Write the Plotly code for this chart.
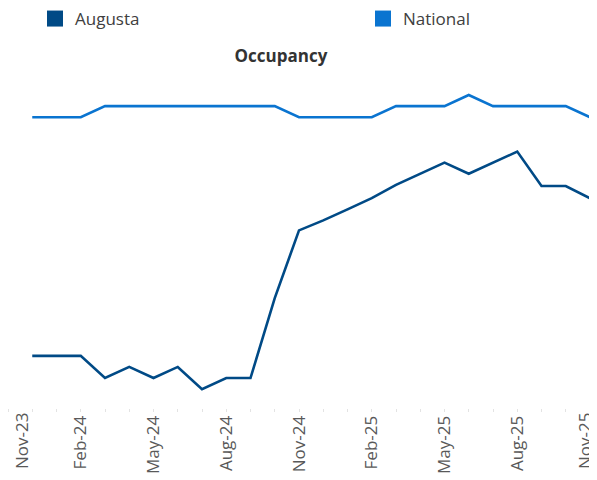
import plotly.graph_objects as go

months = ["Nov-23", "Dec-23", "Jan-24", "Feb-24", "Mar-24", "Apr-24", "May-24", "Jun-24",
          "Jul-24", "Aug-24", "Sep-24", "Oct-24", "Nov-24", "Dec-24", "Jan-25", "Feb-25",
          "Mar-25", "Apr-25", "May-25", "Jun-25", "Jul-25", "Aug-25", "Sep-25", "Oct-25", "Nov-25"]

augusta = [None, 44.7, 44.7, 44.7, 42.7, 43.7, 42.7, 43.7, 41.7, 42.7, 42.7, 49.9, 56.0,
           56.9, 57.9, 58.9, 60.1, 61.1, 62.1, 61.1, 62.1, 63.1, 60.0, 60.0, 58.9]

national = [None, 66.2, 66.2, 66.2, 67.2, 67.2, 67.2, 67.2, 67.2, 67.2, 67.2, 67.2, 66.2,
            66.2, 66.2, 66.2, 67.2, 67.2, 67.2, 68.2, 67.2, 67.2, 67.2, 67.2, 66.2]

labeled = ["Nov-23", "Feb-24", "May-24", "Aug-24", "Nov-24", "Feb-25", "May-25", "Aug-25", "Nov-25"]
first_label, last_label = labeled[0], labeled[-1]
tick_text = [m if (m in labeled and m not in (first_label, last_label)) else "" for m in months]

c_aug = "#004A86"
c_nat = "#0A74D0"

# page body adds an 8px margin, so the figure is laid out 8px smaller horizontally
W, H = 589, 472

fig = go.Figure()
fig.add_trace(go.Scatter(x=months, y=augusta, mode="lines", name="Augusta",
                         line=dict(color=c_aug, width=2.6), showlegend=False))
fig.add_trace(go.Scatter(x=months, y=national, mode="lines", name="National",
                         line=dict(color=c_nat, width=2.6), showlegend=False))
# legend entries (square swatches)
fig.add_trace(go.Scatter(x=[None], y=[None], mode="markers", name="Augusta", legend="legend",
                         marker=dict(symbol="square", size=16, color=c_aug)))
fig.add_trace(go.Scatter(x=[None], y=[None], mode="markers", name="National", legend="legend2",
                         marker=dict(symbol="square", size=16, color=c_nat)))

leg_common = dict(orientation="h", xref="container", yref="container", xanchor="left",
                  yanchor="middle", font=dict(size=17, color="#404040", family="Open Sans"),
                  bgcolor="rgba(0,0,0,0)", borderwidth=0)

tickfont = dict(size=17, color="#595959", family="Open Sans")

fig.update_layout(
    width=W, height=H,
    margin=dict(l=0, r=7, t=67, b=72, autoexpand=False),
    paper_bgcolor="white", plot_bgcolor="white",
    font=dict(family="Open Sans", color="#404040"),
    title=dict(text="<b>Occupancy</b>", x=273/W, xanchor="center", xref="container",
               y=1-48/H, yanchor="middle", yref="container",
               font=dict(size=17, color="#333333", family="Open Sans")),
    legend=dict(x=27/W, y=1-11/H, **leg_common),
    legend2=dict(x=355/W, y=1-11/H, **leg_common),
    xaxis=dict(type="category", categoryorder="array", categoryarray=months,
               range=[0, 24], tickmode="array", tickvals=months, ticktext=tick_text,
               tickangle=-90, ticks="outside", ticklen=3, tickcolor="#E3E3E3",
               showgrid=False, zeroline=False, showline=False, automargin=False,
               ticklabeloverflow="allow", ticklabelstandoff=-3, tickfont=tickfont),
    yaxis=dict(range=[40, 70], tickmode="array", tickvals=[50, 60], ticks="outside",
               ticklen=4, tickcolor="#E3E3E3", showticklabels=False, automargin=False,
               showgrid=False, zeroline=False, showline=False),
)

# end tick labels sit slightly inward from the plot edges
fig.add_annotation(x=first_label, xref="x", y=0, yref="paper", yanchor="top",
                   text=first_label, textangle=-90, showarrow=False, xshift=13, yshift=-3,
                   font=tickfont)
fig.add_annotation(x=last_label, xref="x", y=0, yref="paper", yanchor="top",
                   text=last_label, textangle=-90, showarrow=False, xshift=-6, yshift=-3,
                   font=tickfont)

fig.write_html("out.html")
